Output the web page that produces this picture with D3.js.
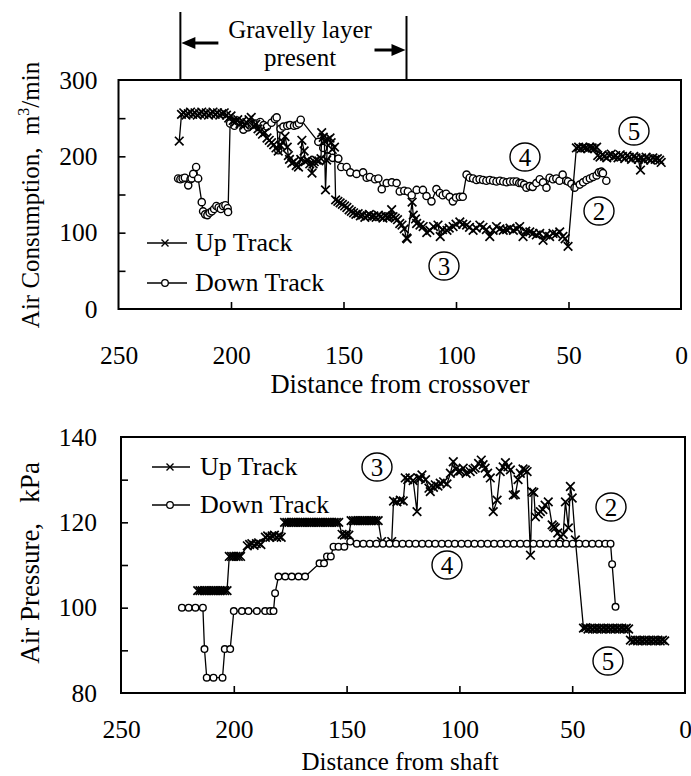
<!DOCTYPE html>
<html><head><meta charset="utf-8">
<script src="https://cdn.jsdelivr.net/npm/d3@7"></script>
<style>
html,body{margin:0;padding:0;background:#fff;}
svg{display:block;font-family:"Liberation Serif","Times New Roman",serif;}
.axis path{display:none}
.axis line{stroke:#000;stroke-width:1.6}
.axis text{font-size:25.5px;fill:#000;font-family:"Liberation Serif","Times New Roman",serif}
</style></head><body>
<svg id="chart" width="691" height="776"></svg>
<script>
// ---- Air consumption vs distance from crossover [distance, m3/min] ----
const upConsumption = [
[223,220],
[222,255],[221,257],[220,254],[219,256],[218,258],[217,255],[216,257],[215,254],[214,256],[213,258],[212,255],[211,257],[210,254],[209,256],[208,258],[207,255],[206,257],[205,254],[204,256],[203,257],[202,254],
[201,250],[200,253],[199,247],[198,245],[197,248],[196,243],[195,246],[194,241],[193,244],[192,248],[191,251],[190,239],[189,242],[188,236],[187,233],[186,229],[185,231],[184,224],[183,221],[182,218],[181,215],[180,211],[179,207],[178,214],[177,219],[176,226],[175,212],[174.5,201],[174,196],[173,191],[172,193],[171,188],[170,186],[169,196],[168.5,221],[167.5,207],[167,193],[166,195],[165,190],[164,178],[163.5,190],[163,193],[162,195],[161,194],[160,197],[159.7,231],[159,225],[158.5,220],[158,156],[157.5,195],[157,222],[156,224],[155.5,218],[155,209],[154,212],[153.5,143],
[152.5,141],[151.5,139],[150.5,137],[149.5,135],[148.5,133],[147.5,130],[146.5,128],[145.5,126],[144.5,124],[143.5,125],[142.5,122],[141.5,123],[140.5,120],[139.5,122],[138.5,124],[137.5,121],[136.5,122],[135.5,120],[134.5,123],[133.5,121],[132.5,119],[131.5,122],[130.5,120],[129.5,121],[128.6,130],[128,121],[127,119],[126,117],[125,112],[124,110],[123,105],[122,93],[121.7,92],
[119.5,140],[119,123],[118,118],[117.5,112],[116,110],[114.6,108],[113,100],[111.6,103],[110,108],[108,110],[107,95],[106,104],[104,103],[103,106],[101.3,108],[100,111],[98.3,114],[97,111],[95.3,110],[94,107],[92.4,103],[91,106],[89.4,110],[88,107],[86.5,104],[85,95],[83.5,103],[82,108],[80.5,105],[79,103],[77.5,104],[76,106],[74.5,103],[73,105],[71.7,108],[70.2,95],[69,102],[67.2,101],[65.8,99],[64.3,97],[62.8,99],[61.3,90],[60,97],[58.4,95],[56.9,99],[55.4,98],[53.9,101],[52.5,95],[51.5,92],[50.2,82],
[46.5,211],[45.5,212],[44.5,210],[43.5,212],[42.5,211],[41.5,210],[40.5,212],[39.5,211],[38.5,210],[37.5,212],
[37,201],[36,199],[35,202],[34,200],[33,198],[32,201],[31,203],[30,199],[29,201],[28,198],[27,202],[26,200],[25,197],[24,201],[23,199],[22,196],[21,200],[20,198],[19,196],[18,182],[17.5,198],[16.5,195],[15.5,199],[14.5,197],[13.5,195],[12.5,198],[11.5,196],[10.5,197],[9.5,195],[8.8,192]
];
const downConsumption = [
[223.5,171],[222.5,170],[221.5,171],[220.5,172],[219,162],[218,170],[217.5,171],[216.8,177],[215.5,186],[214.6,171],[213,140],[212.4,128],[211.5,124],[210.5,123],[209.5,126],[208.5,128],[207.5,131],[206.5,135],[205.5,133],[204.5,131],[203.5,135],[202.5,136],[201.5,132],[201.3,127],
[200.4,243],[198.5,240],[196.7,245],[194.5,235],[192.5,238],[190.8,241],[189,243],[187,245],[185.5,241],[184,239],[182,244],[180.5,249],[179.7,251],[179,208],[178,236],[176.7,239],[175,240],[173.8,241],[172,240],[170.8,241],[169.8,243],[169,248],
[161.2,219],[159,211],[157,200],[154.8,198],[152.3,197],[151,186],[148.6,186],[147,179],[144.2,177],[141.3,179],[139.7,172],[138.3,173],[136,170],[134.5,171],[133,157],[130.8,165],[128.5,166],[126.4,165],[125,154],[123,155],[121.4,154],[119.7,149],[117.5,156],[114.7,156],[113.1,148],[110.9,141],[108.7,157],[107.2,152],[105.9,149],[104.4,151],[102.8,147],[101.4,141],[100,146],[98.3,147],[97,147],
[95.3,176],[93.9,172],[92.4,171],[90.9,169],[89.5,170],[88,169],[86.5,168],[85,169],[83.5,168],[82,167],[80.5,168],[79,167],[77.5,166],[76,167],[74.5,167],[73.1,167],[71.9,165],[70.9,165],[69.7,163],[68.7,159],[67.2,161],[65.9,160],[64.3,165],[62.8,170],[61.3,166],[59.8,159],[58.4,172],[56.9,170],[55.4,171],[54,168],[52.6,176],[51,168],[50.2,167],[48.7,164],[47.3,159],[45,163],[43.5,166],[42,169],[40.5,171],[39.1,173],[37.5,175],[36.5,179],[35.4,180],[34.7,178],[33.2,168]
];

// ---- Air pressure vs distance from shaft [distance, kPa] ----
const upPressure = [
[216,104],[215,104],[214,104],[213,104],[212,104],[211,104],[210,104],[209,104],[208,104],[207,104],[206,104],[205,104],[204,104],[203,104],
[202,112],[201,112],[200,112],[199,112],[198,112],[197,112],
[194,114.5],[193,114.8],[192,115],[191,114.6],[190,115],[189,115.2],[188,114.8],
[186,116.5],[185,116.8],[184,116.5],[183,116.8],[182,117],[181,116.5],[180,116.8],[179,116.5],
[177.5,120],[176.5,120],[175.5,120],[174.5,120],[173.5,120],[172.5,120],[171.5,120],[170.5,120],[169.5,120],[168.5,120],[167.5,120],[166.5,120],[165.5,120],[164.5,120],[163.5,120],[162.5,120],[161.5,120],[160.5,120],[159.5,120],[158.5,120],[157.5,120],[156.5,120],[155.5,120],[154.5,120],[153.5,120],
[152,117.2],[151,117],[150,117.2],[149,117],
[148,120.4],[147,120.4],[146,120.4],[145,120.4],[144,120.4],[143,120.4],[142,120.4],[141,120.4],[140,120.4],[139,120.4],[138,120.4],[137,120.4],[136,120.4],
[134.5,115.5],[130,115.5],
[129.2,125],[127.7,124.8],[126.2,125.2],[124.9,125],[124,130.4],[122.9,130],[121.9,130.4],[120.5,129.8],[118.8,122.5],[118.2,130.4],[117.3,130.3],[116.6,131.1],[115,130],[113.5,128],[112.9,127.2],[111.5,128.2],[110.7,128.8],[109.5,128.5],[108.5,129.2],[107,129.5],[105.5,129],[104,131.5],[102.7,134.2],[101.5,132.5],[100.5,131.9],[99.5,132],[98.3,132.7],[97,131.5],[95.2,131.9],[94,132.4],[93,132.7],[91.5,133.8],[90.3,134.6],[89.5,133.5],[88.6,132.7],[87.5,131.5],[86.3,130.4],[85,122.5],[83.3,125.2],[81.9,131.9],[80.6,133],[79.6,134],[78.5,133],[77.4,132.3],[76.1,126.4],[75.2,126.5],[74,130],[73,131.5],[71.8,132.5],[70.8,132.3],[70,131.9],[68.5,112.3],[67.8,127.2],[67,127],[66.3,121.3],[65,122],[64.1,122.5],[63,123],[62,124],[60.6,124.8],[58.9,119.4],[58.2,119],[57.5,118.7],[56.4,117.5],[55.2,116.6],[54,117.2],[53,124.8],[51.7,118.7],[50.8,128.4],[50,125.7],[48.6,115.9],
[45,95.2],[44,95.3],[43,95],[42,95.2],[41,95],[40,95.2],[39,95],[38,95.2],[37,95],[36,95.2],[35,95],[34,95.2],[33,95],[32,95.2],[31,95],[30,95.2],[29,95],[28,95.2],[27,95],[26,95.2],[25,95],
[24.2,92.4],[23,92.2],[22,92.4],[21,92.2],[20,92.4],[19,92.2],[18,92.4],[17,92.2],[16,92.4],[15,92.2],[14,92.4],[13,92.2],[12,92.4],[11,92.2],[10,92.4],[9,92.2]
];
const downPressure = [
[223,100],[220,100],[217,100],[213.7,100],[213,90.3],[212,83.6],[209,83.6],[205,83.6],[204,90.3],[201.6,90.3],
[200,99.2],[196.4,99.2],[193.5,99.2],[189.8,99.2],[186.1,99.2],[183.9,99.2],[182.4,99.2],[181.7,103.4],
[180.2,107.3],[177.2,107.3],[174.3,107.3],[171.3,107.3],[168.4,107.3],
[162,110.4],[160,110.4],[158.7,112],[157,112],[155.8,114.3],[153.6,114.3],[151,114.3],[148.4,115.5],
[145.5,115],[142.6,115],[139.7,115],[136.8,115],[133.9,115],[131,115],[128.1,115],[125.2,115],[122.3,115],[119.4,115],[116.5,115],[113.6,115],[110.7,115],[107.8,115],[104.9,115],[102,115],[99.1,115],[96.2,115],[93.3,115],[90.4,115],[87.5,115],[84.6,115],[81.7,115],[78.8,115],[75.9,115],[73,115],[70.1,115],[67.2,115],[64.3,115],[61.4,115],[58.5,115],[55.6,115],[52.7,115],[49.8,115],[46.9,115],[44,115],[41.1,115],[38.2,115],[35.3,115],[33,115],
[32.3,110.2],[30.8,100.2]
];

// axis tick values
const xLabelTicks = [250, 200, 150, 100, 50, 0];
const xInnerTicks = [200, 150, 100, 50];
const consumptionLabelTicks = [0, 100, 200, 300];
const consumptionInnerTicks = [50, 100, 150, 200, 250];
const pressureLabelTicks = [80, 100, 120, 140];
const pressureInnerTicks = [90, 100, 110, 120, 130];
// extent of the gravelly layer along the crossover distance
const gravellyRange = [222.5, 122];

const svg = d3.select("#chart");
const FONT = '"Liberation Serif","Times New Roman",serif';

const crossPath = "M-4.3,-4.3L4.3,4.3M-4.3,4.3L4.3,-4.3";

function drawPanel(o) {
  const g = svg.append("g");
  const { x, y } = o;
  const [x0, x1] = x.range();
  const [yb, yt] = y.range();

  // frame
  g.append("rect").attr("x", x0).attr("y", yt).attr("width", x1 - x0).attr("height", yb - yt)
    .attr("fill", "none").attr("stroke", "#000").attr("stroke-width", 2);

  // inner ticks
  g.append("g").attr("class", "axis").attr("transform", `translate(0,${yb})`)
    .call(d3.axisBottom(x).tickValues(xInnerTicks).tickSize(-7).tickFormat(""));
  g.append("g").attr("class", "axis").attr("transform", `translate(${x0},0)`)
    .call(d3.axisLeft(y).tickValues(o.yInner).tickSize(-7).tickFormat(""));

  // tick labels
  g.append("g").attr("class", "axis").attr("transform", `translate(0,${yb})`)
    .call(d3.axisBottom(x).tickValues(xLabelTicks).tickSize(0).tickPadding(o.xPad).tickFormat(d3.format("d")));
  g.append("g").attr("class", "axis").attr("transform", `translate(${x0},0)`)
    .call(d3.axisLeft(y).tickValues(o.yLabels).tickSize(0).tickPadding(o.yPad).tickFormat(d3.format("d")));

  // axis titles
  g.append("text").attr("x", 400).attr("y", o.xTitleY).attr("text-anchor", "middle")
    .attr("font-size", o.xTitleSize).attr("font-family", FONT).text(o.xTitle);
  const yt2 = g.append("text").attr("transform", `translate(39,${o.yTitleMid}) rotate(-90)`)
    .attr("text-anchor", "middle").attr("font-size", o.yTitleSize).attr("font-family", FONT)
    .attr("xml:space", "preserve").style("white-space", "pre");
  o.yTitle(yt2);

  const line = d3.line().x(d => x(d[0])).y(d => y(d[1]));

  const drawUp = () => {
    g.append("path").datum(o.up).attr("d", line).attr("fill", "none").attr("stroke", "#000").attr("stroke-width", 1.3);
    g.append("g").selectAll("path").data(o.up).join("path")
      .attr("transform", d => `translate(${x(d[0])},${y(d[1])})`)
      .attr("d", crossPath).attr("stroke", "#000").attr("stroke-width", 1.7).attr("fill", "none");
  };
  const drawDown = () => {
    g.append("path").datum(o.down).attr("d", line).attr("fill", "none").attr("stroke", "#000").attr("stroke-width", 1.3);
    g.append("g").selectAll("circle").data(o.down).join("circle")
      .attr("cx", d => x(d[0])).attr("cy", d => y(d[1])).attr("r", o.r)
      .attr("fill", "#fff").attr("stroke", "#000").attr("stroke-width", 1.4);
  };
  if (o.upOnTop) { drawDown(); drawUp(); } else { drawUp(); drawDown(); }

  // legend
  const L = o.legend;
  g.append("line").attr("x1", L.x1).attr("x2", L.x2).attr("y1", L.y1).attr("y2", L.y1).attr("stroke", "#000").attr("stroke-width", 1.3);
  g.append("path").attr("transform", `translate(${L.mx},${L.y1})`).attr("d", "M-3.5,-3.5L3.5,3.5M-3.5,3.5L3.5,-3.5").attr("stroke", "#000").attr("stroke-width", 1.4);
  g.append("text").attr("x", L.tx).attr("y", L.y1 + 8).attr("font-size", 26).attr("font-family", FONT).text("Up Track");
  g.append("line").attr("x1", L.x1).attr("x2", L.x2).attr("y1", L.y2).attr("y2", L.y2).attr("stroke", "#000").attr("stroke-width", 1.3);
  g.append("circle").attr("cx", L.mx).attr("cy", L.y2).attr("r", 3.3).attr("fill", "#fff").attr("stroke", "#000").attr("stroke-width", 1.3);
  g.append("text").attr("x", L.tx).attr("y", L.y2 + 8).attr("font-size", 26).attr("font-family", FONT).text("Down Track");

  // circled stage numbers
  o.marks.forEach(m => {
    g.append("ellipse").attr("cx", m[1]).attr("cy", m[2]).attr("rx", 15).attr("ry", 14)
      .attr("fill", "#fff").attr("stroke", "#000").attr("stroke-width", 1.4);
    g.append("text").attr("x", m[1]).attr("y", m[2] + 8.5).attr("text-anchor", "middle")
      .attr("font-size", 25).attr("font-family", FONT).text(m[0]);
  });
  return g;
}

// top panel: air consumption
const xTop = d3.scaleLinear().domain([250, 0]).range([118.5, 681]);
const yTop = d3.scaleLinear().domain([0, 300]).range([309, 80]);
drawPanel({
  x: xTop, y: yTop, up: upConsumption, down: downConsumption, r: 3.6, upOnTop: true,
  yInner: consumptionInnerTicks, yLabels: consumptionLabelTicks, xPad: 37, yPad: 21,
  xTitle: "Distance from crossover", xTitleY: 393, xTitleSize: 26.5,
  yTitleMid: 195, yTitleSize: 25,
  yTitle: t => { t.append("tspan").text("Air Consumption,  m");
                 t.append("tspan").attr("dy", -10).attr("font-size", 16).text("3");
                 t.append("tspan").attr("dy", 10).text("/min"); },
  legend: { x1: 147, x2: 187, mx: 165, tx: 195, y1: 243, y2: 283 },
  marks: [["2", 599, 211], ["3", 444, 266], ["4", 525, 157], ["5", 634, 131]]
});

// bottom panel: air pressure
const xBot = d3.scaleLinear().domain([250, 0]).range([121, 685]);
const yBot = d3.scaleLinear().domain([80, 140]).range([693, 437]);
drawPanel({
  x: xBot, y: yBot, up: upPressure, down: downPressure, r: 3.3, upOnTop: false,
  yInner: pressureInnerTicks, yLabels: pressureLabelTicks, xPad: 27, yPad: 24,
  xTitle: "Distance from shaft", xTitleY: 770, xTitleSize: 25,
  yTitleMid: 563, yTitleSize: 27,
  yTitle: t => t.text("Air Pressure,   kPa"),
  legend: { x1: 152, x2: 190, mx: 170, tx: 200, y1: 467, y2: 505 },
  marks: [["2", 611, 507], ["3", 377, 467], ["4", 447, 565], ["5", 608, 661]]
});

// gravelly layer annotation above the top panel
const ann = svg.append("g");
const gx0 = xTop(gravellyRange[0]), gx1 = xTop(gravellyRange[1]);
ann.append("line").attr("x1", gx0).attr("x2", gx0).attr("y1", 12).attr("y2", 80).attr("stroke", "#000").attr("stroke-width", 2);
ann.append("line").attr("x1", gx1).attr("x2", gx1).attr("y1", 16).attr("y2", 80).attr("stroke", "#000").attr("stroke-width", 2);
// left arrow
ann.append("line").attr("x1", gx0 + 12).attr("x2", gx0 + 38).attr("y1", 43).attr("y2", 43).attr("stroke", "#000").attr("stroke-width", 3);
ann.append("path").attr("d", `M${gx0 + 1},43L${gx0 + 15},37L${gx0 + 15},49Z`).attr("fill", "#000");
// right arrow
ann.append("line").attr("x1", gx1 - 32).attr("x2", gx1 - 12).attr("y1", 50).attr("y2", 50).attr("stroke", "#000").attr("stroke-width", 3);
ann.append("path").attr("d", `M${gx1 - 1},50L${gx1 - 15},44L${gx1 - 15},56Z`).attr("fill", "#000");
ann.append("text").attr("x", 300).attr("y", 38).attr("text-anchor", "middle").attr("font-size", 25).attr("font-family", FONT).text("Gravelly layer");
ann.append("text").attr("x", 300).attr("y", 66).attr("text-anchor", "middle").attr("font-size", 25).attr("font-family", FONT).text("present");
</script>
</body></html>
